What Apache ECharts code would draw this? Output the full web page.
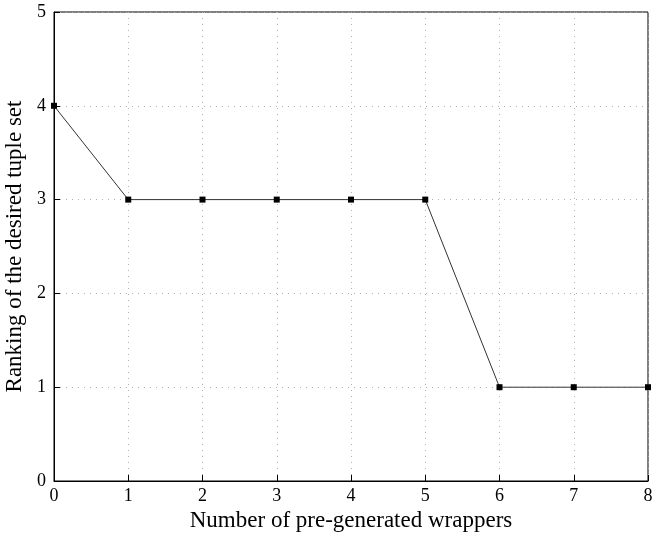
<!DOCTYPE html>
<html>
<head>
<meta charset="utf-8">
<script src="https://cdn.jsdelivr.net/npm/echarts@6/dist/echarts.min.js"></script>
<style>
    html, body { margin: 0; padding: 0; background: #fff; }
    #chart { width: 661px; height: 537px; }
</style>
</head>
<body>
<div id="chart"></div>
<script>
    // wrappers count vs ranking
    const wrappers = [0, 1, 2, 3, 4, 5, 6, 7, 8];
    const ranking = [4, 3, 3, 3, 3, 3, 1, 1, 1];

    const points = wrappers.map((x, i) => [x, ranking[i]]);

    const font = '"Liberation Serif", "DejaVu Serif", serif';
    const gridLine = {show: true, lineStyle: {color: '#b0b0b0', type: [1, 5], width: 1}};

    const chart = echarts.init(document.getElementById('chart'));
    chart.setOption({
        animation: false,
        grid: {
            left: 54, right: 13, top: 12, bottom: 56,
            outerBoundsMode: 'none',
            containLabel: false,
            show: true, borderColor: '#000', borderWidth: 1
        },
        xAxis: [{
            type: 'value',
            min: 0,
            max: 8,
            interval: 1,
            name: 'Number of pre-generated wrappers',
            nameLocation: 'middle',
            nameGap: 27,
            nameTextStyle: {fontFamily: font, fontSize: 23, color: '#000'},
            axisLine: {lineStyle: {color: '#000'}},
            axisTick: {inside: true, length: 6, lineStyle: {color: '#000'}},
            axisLabel: {fontFamily: font, fontSize: 18, color: '#000', margin: 6},
            splitLine: gridLine
        }],
        yAxis: [{
            type: 'value',
            min: 0,
            max: 5,
            interval: 1,
            name: 'Ranking of the desired tuple set',
            nameLocation: 'middle',
            nameGap: 23,
            nameTextStyle: {fontFamily: font, fontSize: 23, color: '#000'},
            axisLine: {lineStyle: {color: '#000'}},
            axisTick: {inside: true, length: 6, lineStyle: {color: '#000'}},
            axisLabel: {fontFamily: font, fontSize: 18, color: '#000', margin: 8},
            splitLine: gridLine
        }],
        series: [{
            type: 'line',
            data: points,
            symbol: 'rect',
            symbolSize: 6,
            itemStyle: {color: '#000'},
            lineStyle: {color: '#333', width: 1},
            clip: false
        }]
    });
</script>
</body>
</html>
